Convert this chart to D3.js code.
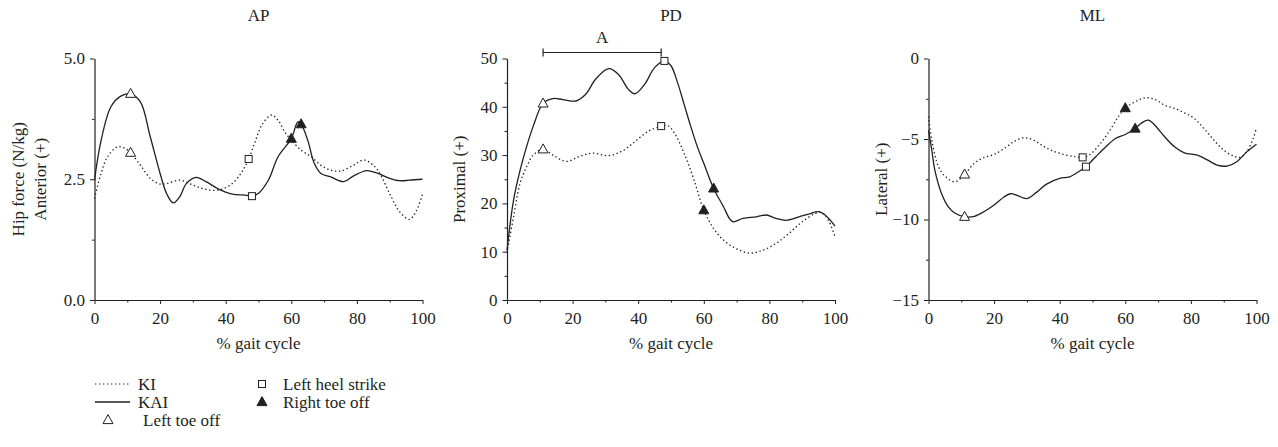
<!DOCTYPE html>
<html><head><meta charset="utf-8">
<script src="https://cdn.jsdelivr.net/npm/d3@7"></script>
<style>
body{margin:0;background:#fff;}
text{font-family:"Liberation Serif","DejaVu Serif",serif;fill:#231f20;}
</style></head>
<body><svg id="c" width="1278" height="447"></svg>
<script>
// ---------- DATA ----------
const panelTitles = ["AP", "PD", "ML"];
const xTickValues = [0, 20, 40, 60, 80, 100];
const yDomains = [[0, 5], [0, 50], [-15, 0]];
const yTickValues = [[0, 2.5, 5], [0, 10, 20, 30, 40, 50], [-15, -10, -5, 0]];
const yTickLabels = [["0.0", "2.5", "5.0"], ["0","10","20","30","40","50"], ["\u221215","\u221210","\u22125","0"]];
const yMinorStep = [1.25, 5, 2.5];
const yLabels = [["Hip force (N/kg)", "Anterior (+)"], ["Proximal (+)"], ["Lateral (+)"]];

// AP panel
const apKAI = [[0,2.48],[2,3.3],[5,4.0],[8,4.22],[11,4.27],[14,4.1],[17,3.38],[20,2.62],[22,2.2],[24,2.01],[26,2.14],[28,2.41],[31,2.54],[34,2.45],[38,2.29],[42,2.19],[46,2.17],[48,2.15],[50,2.21],[53,2.48],[56,2.97],[60,3.34],[62,3.69],[63,3.64],[65,3.31],[67,2.83],[69,2.62],[72,2.55],[76,2.45],[79,2.57],[83,2.68],[86,2.63],[90,2.52],[93,2.47],[96,2.48],[100,2.5]];
const apKI = [[0,2.1],[2,2.62],[4,2.97],[7,3.17],[9,3.15],[11,3.05],[14,2.79],[17,2.52],[20,2.4],[22,2.41],[26,2.48],[30,2.38],[34,2.29],[38,2.28],[42,2.41],[45,2.66],[47,2.92],[49,3.28],[51,3.62],[54,3.83],[56,3.72],[58,3.48],[60,3.31],[63,3.1],[66,2.97],[69,2.79],[72,2.69],[75,2.67],[79,2.79],[82,2.9],[85,2.79],[87,2.62],[90,2.2],[93,1.83],[96,1.67],[98,1.83],[100,2.19]];
// PD panel
const pdKAI = [[0,10.3],[2,20.7],[4,26.9],[6,31.8],[8,36],[11,40.7],[14,41.7],[17,41.5],[21,41.2],[24,42.6],[27,45.7],[31,47.9],[34,46.7],[37,43.6],[39,42.7],[42,44.7],[45,48.1],[48,49.5],[50,48.5],[52,45],[54,40.5],[56,36],[58,31.8],[60,28.3],[63,23.1],[66,19.3],[68,16.7],[69,16.2],[72,16.9],[76,17.2],[79,17.6],[82,16.9],[85,16.5],[89,17.2],[92,17.8],[95,18.3],[97,17.6],[100,15.3]];
const pdKI = [[0,9.8],[2,17.2],[4,24.2],[6,27.6],[8,30],[11,31.2],[14,30],[18,28.7],[22,29.7],[26,30.4],[31,29.9],[35,30.8],[39,32.8],[43,34.9],[47,36],[49,36.1],[51,34.6],[54,30.4],[57,24.9],[60,18.6],[63,14.8],[66,12.4],[70,10.6],[74,9.7],[78,10.3],[82,11.7],[86,13.8],[90,16.2],[94,17.9],[96,18.1],[98,16.5],[100,13.1]];
// ML panel
const mlKAI = [[0,-4.45],[1,-5.7],[2,-7.0],[4,-8.4],[6,-9.2],[8,-9.6],[11,-9.83],[14,-9.8],[17,-9.5],[20,-9.1],[23,-8.6],[25,-8.4],[27,-8.5],[30,-8.7],[33,-8.3],[36,-7.8],[40,-7.45],[43,-7.35],[46,-7.0],[48,-6.72],[51,-6.1],[54,-5.5],[57,-4.97],[60,-4.72],[63,-4.35],[65,-4.0],[67,-3.83],[69,-4.14],[72,-4.86],[75,-5.48],[78,-5.86],[82,-6.0],[85,-6.3],[88,-6.62],[91,-6.68],[94,-6.41],[97,-5.8],[100,-5.32]];
const mlKI = [[0,-3.6],[1,-5.07],[3,-6.7],[5,-7.3],[8,-7.66],[11,-7.2],[14,-6.5],[17,-6.15],[20,-5.96],[23,-5.6],[26,-5.17],[29,-4.92],[32,-5.07],[35,-5.44],[38,-5.75],[42,-6.0],[45,-6.1],[47,-6.14],[49,-6.0],[52,-5.38],[55,-4.55],[58,-3.58],[60,-3.08],[63,-2.69],[66,-2.44],[69,-2.54],[72,-2.9],[75,-3.1],[78,-3.37],[81,-3.72],[84,-4.35],[87,-5.07],[90,-5.69],[93,-6.06],[95,-6.14],[97,-5.8],[99,-4.97],[100,-4.28]];

// Event markers per panel: [x, y]
const leftToeOff = [[[11,4.27],[11,3.05]], [[11,40.7],[11,31.2]], [[11,-9.83],[11,-7.2]]];
const leftHeelStrike = [[[47,2.92],[48,2.15]], [[47,36],[48,49.5]], [[47,-6.14],[48,-6.72]]];
const rightToeOff = [[[60,3.34],[63,3.64]], [[60,18.6],[63,23.1]], [[60,-3.08],[63,-4.35]]];
const seriesKAI = [apKAI, pdKAI, mlKAI];
const seriesKI = [apKI, pdKI, mlKI];
const bracketA = [11, 47];

// ---------- DRAW ----------
const ink = "#231f20";
const FS = 17;
const svg = d3.select("#c");
const panelLeft = [94.5, 507, 928.5];
const plotW = 328, yTop = 58.5, yBot = 300;

function triPath(cx, cy, s) {
  const h = s * 0.9;
  return `M${cx},${cy - h*0.6}L${cx + s/2},${cy + h*0.4}L${cx - s/2},${cy + h*0.4}Z`;
}

for (let p = 0; p < 3; p++) {
  const x = d3.scaleLinear().domain([0, 100]).range([panelLeft[p], panelLeft[p] + plotW]);
  const y = d3.scaleLinear().domain(yDomains[p]).range([yBot, yTop]);
  const g = svg.append("g");

  // minor ticks
  const xMinor = d3.range(10, 100, 20);
  g.append("g").attr("transform", `translate(0,${yBot})`)
    .call(d3.axisBottom(x).tickValues(xMinor).tickSize(2.5).tickFormat(""))
    .call(s => s.select(".domain").remove())
    .selectAll("line").attr("stroke", ink);
  const yMin = d3.range(yDomains[p][0], yDomains[p][1] + 1e-9, yMinorStep[p]).filter(v => !yTickValues[p].some(t => Math.abs(t - v) < 1e-9));
  g.append("g").attr("transform", `translate(${panelLeft[p]},0)`)
    .call(d3.axisLeft(y).tickValues(yMin).tickSize(2.5).tickFormat(""))
    .call(s => s.select(".domain").remove())
    .selectAll("line").attr("stroke", ink);

  // major axes
  const xa = g.append("g").attr("transform", `translate(0,${yBot})`)
    .call(d3.axisBottom(x).tickValues(xTickValues).tickSize(4).tickSizeOuter(0).tickPadding(8).tickFormat(d3.format("d")));
  const ya = g.append("g").attr("transform", `translate(${panelLeft[p]},0)`)
    .call(d3.axisLeft(y).tickValues(yTickValues[p]).tickSize(4.5).tickSizeOuter(0).tickPadding(5)
      .tickFormat((d, i) => yTickLabels[p][i]));
  [xa, ya].forEach(a => {
    a.select(".domain").attr("stroke", ink).attr("stroke-width", 1.2);
    a.selectAll("line").attr("stroke", ink);
    a.selectAll("text").attr("font-size", FS).attr("fill", ink)
      .attr("font-family", '"Liberation Serif","DejaVu Serif",serif');
  });

  // title
  g.append("text").attr("x", panelLeft[p] + plotW / 2).attr("y", 21)
    .attr("text-anchor", "middle").attr("font-size", FS).text(panelTitles[p]);
  // x label
  g.append("text").attr("x", panelLeft[p] + plotW / 2).attr("y", 349)
    .attr("text-anchor", "middle").attr("font-size", FS).text("% gait cycle");
  // y label
  const yl = yLabels[p];
  const lx = yl.length === 2 ? [24, 46] : [panelLeft[p] - 42];
  yl.forEach((t, i) => {
    g.append("text").attr("transform", `translate(${lx[i]},${(yTop + yBot) / 2}) rotate(-90)`)
      .attr("text-anchor", "middle").attr("font-size", FS).text(t);
  });

  const line = d3.line().x(d => x(d[0])).y(d => y(d[1])).curve(d3.curveCatmullRom.alpha(0.5));
  g.append("path").datum(seriesKI[p]).attr("d", line).attr("fill", "none")
    .attr("stroke", ink).attr("stroke-width", 1.3).attr("stroke-dasharray", "1.4,2.6");
  g.append("path").datum(seriesKAI[p]).attr("d", line).attr("fill", "none")
    .attr("stroke", ink).attr("stroke-width", 1.3);

  // markers
  leftToeOff[p].forEach(d => g.append("path").attr("d", triPath(x(d[0]), y(d[1]), 10))
    .attr("fill", "#fff").attr("stroke", ink).attr("stroke-width", 1));
  leftHeelStrike[p].forEach(d => g.append("rect").attr("x", x(d[0]) - 3.5).attr("y", y(d[1]) - 3.5)
    .attr("width", 7).attr("height", 7).attr("fill", "#fff").attr("stroke", ink).attr("stroke-width", 1));
  rightToeOff[p].forEach(d => g.append("path").attr("d", triPath(x(d[0]), y(d[1]), 10))
    .attr("fill", ink).attr("stroke", ink).attr("stroke-width", 1));

  if (p === 1) {
    const by = 52.5, x0 = x(bracketA[0]), x1 = x(bracketA[1]);
    g.append("line").attr("x1", x0).attr("x2", x1).attr("y1", by).attr("y2", by).attr("stroke", ink).attr("stroke-width", 1.2);
    [x0, x1].forEach(xx => g.append("line").attr("x1", xx).attr("x2", xx).attr("y1", by - 4).attr("y2", by + 4).attr("stroke", ink).attr("stroke-width", 1.2));
    g.append("text").attr("x", (x0 + x1) / 2).attr("y", 43).attr("text-anchor", "middle").attr("font-size", FS).text("A");
  }
}

// legend
const lg = svg.append("g");
lg.append("line").attr("x1", 95).attr("x2", 130).attr("y1", 384).attr("y2", 384)
  .attr("stroke", ink).attr("stroke-width", 1.2).attr("stroke-dasharray", "1.4,2.6");
lg.append("text").attr("x", 138).attr("y", 390).attr("font-size", FS).text("KI");
lg.append("line").attr("x1", 95).attr("x2", 130).attr("y1", 402).attr("y2", 402)
  .attr("stroke", ink).attr("stroke-width", 1.3);
lg.append("text").attr("x", 138).attr("y", 408).attr("font-size", FS).text("KAI");
lg.append("path").attr("d", triPath(108, 420, 10)).attr("fill", "#fff").attr("stroke", ink);
lg.append("text").attr("x", 143).attr("y", 426).attr("font-size", FS).text("Left toe off");
lg.append("rect").attr("x", 258.5).attr("y", 380.5).attr("width", 7).attr("height", 7).attr("fill", "#fff").attr("stroke", ink);
lg.append("text").attr("x", 283).attr("y", 390).attr("font-size", FS).text("Left heel strike");
lg.append("path").attr("d", triPath(262, 402, 10)).attr("fill", ink).attr("stroke", ink);
lg.append("text").attr("x", 283).attr("y", 408).attr("font-size", FS).text("Right toe off");
</script></body></html>
